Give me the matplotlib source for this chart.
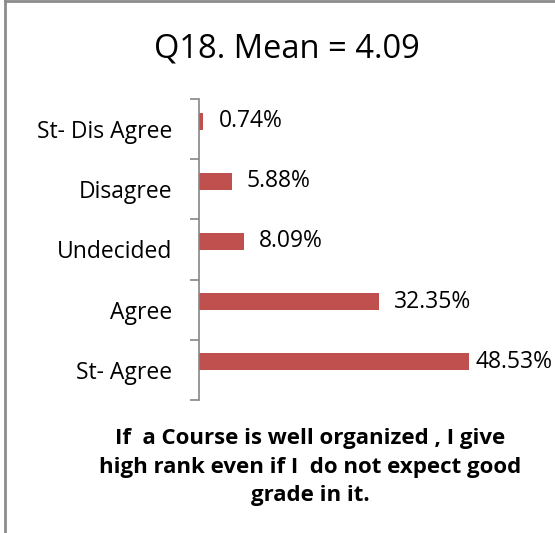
import matplotlib
matplotlib.use("Agg")
import matplotlib.pyplot as plt
from matplotlib.lines import Line2D

# данные
categories = ['St- Agree', 'Agree', 'Undecided', 'Disagree', 'St- Dis Agree']
percents = [48.53, 32.35, 8.09, 5.88, 0.74]
value_labels = ['48.53%', '32.35%', '8.09%', '5.88%', '0.74%']
title = 'Q18. Mean = 4.09'
caption = 'If  a Course is well organized , I give\nhigh rank even if I  do not expect good\ngrade in it.'

plt.rcParams['font.family'] = ['Open Sans', 'DejaVu Sans']

fig = plt.figure(figsize=(5.55, 5.33), dpi=100)
ax = fig.add_axes([199 / 555, 1 - 400 / 533, 333.6 / 555, 301 / 533])

pos = list(range(len(categories)))
bar_pos = [p + 0.133 for p in pos]
ax.barh(bar_pos, percents, height=0.28, color='#C0504D')

ax.set_xlim(0, 60)
ax.set_ylim(-0.5, len(categories) - 0.5)

# ticks between categories, labels in the middle
ax.set_yticks([p - 0.5 for p in range(len(categories) + 1)])
ax.set_yticklabels([])
ax.set_yticks(pos, minor=True)
ax.set_yticklabels(categories, minor=True, fontsize=16.5)
ax.tick_params(axis='y', which='major', length=6.5, width=1.2, color='#868686')
ax.tick_params(axis='y', which='minor', length=0, pad=19)
ax.set_xticks([])
for s in ['top', 'right', 'bottom']:
    ax.spines[s].set_visible(False)
ax.spines['left'].set_color('#868686')
ax.spines['left'].set_linewidth(1.2)

# подписи значений
fig.canvas.draw()
renderer = fig.canvas.get_renderer()
right_limit = 553
for y, v, lab in zip(bar_pos, percents, value_labels):
    t = ax.annotate(lab, (v, y), xytext=(11, 0), textcoords='offset points',
                    ha='left', va='center', fontsize=16.5)
    bb = t.get_window_extent(renderer)
    if bb.x1 > right_limit:
        t.set_position((11 - (bb.x1 - right_limit) * 72 / fig.dpi, 0))

fig.text(287 / 555, 1 - 49 / 533, title, ha='center', va='center', fontsize=23.5)
fig.text(310 / 555, 1 - 467 / 533, caption, ha='center', va='center',
         fontsize=16, fontweight='bold', linespacing=1.45)

# рамка слева и сверху
fig.add_artist(Line2D([5 / 555, 5 / 555], [0, 1 - 1 / 533], transform=fig.transFigure,
                      color='#8c8c8c', linewidth=2))
fig.add_artist(Line2D([5 / 555, 1], [1 - 1 / 533, 1 - 1 / 533], transform=fig.transFigure,
                      color='#8c8c8c', linewidth=2))

fig.savefig('out.png', dpi=100)
